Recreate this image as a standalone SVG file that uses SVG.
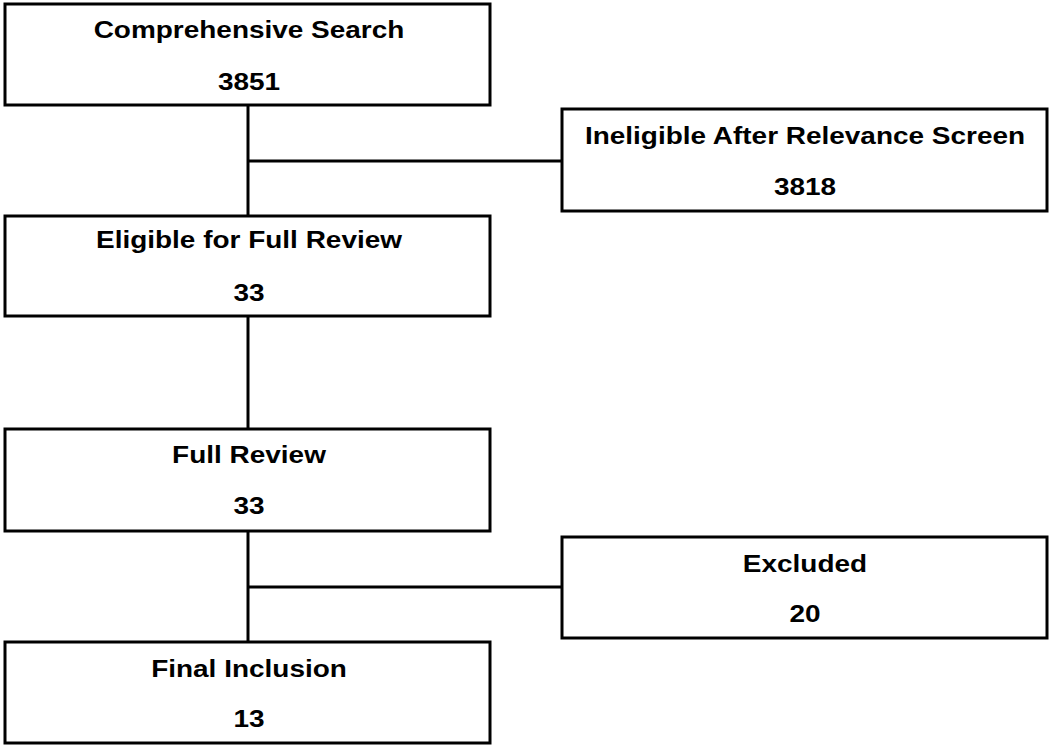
<svg xmlns="http://www.w3.org/2000/svg" width="1050" height="751" viewBox="0 0 1050 751">
<style>
.box{fill:#fff;stroke:#000;stroke-width:3}
.t{font-family:"Liberation Sans",Arial,sans-serif;font-weight:bold;font-size:24px;fill:#000;text-anchor:middle}
.c{stroke:#000;stroke-width:3;fill:none}
</style>
<rect width="1050" height="751" fill="#fff"/>
<g id="connectors">
<line class="c" x1="248" y1="105" x2="248" y2="216"/>
<line class="c" x1="248" y1="161" x2="562" y2="161"/>
<line class="c" x1="248" y1="316" x2="248" y2="429"/>
<line class="c" x1="248" y1="531" x2="248" y2="642"/>
<line class="c" x1="248" y1="587" x2="562" y2="587"/>
</g>
<g id="comprehensive-search">
<rect class="box" x="5" y="4" width="485" height="101"/>
<text class="t" transform="translate(249,38) scale(1.165,1)">Comprehensive Search</text>
<text class="t" transform="translate(249,90) scale(1.165,1)">3851</text>
</g>
<g id="ineligible">
<rect class="box" x="562" y="109" width="485" height="102"/>
<text class="t" transform="translate(805,144) scale(1.165,1)">Ineligible After Relevance Screen</text>
<text class="t" transform="translate(805,195) scale(1.165,1)">3818</text>
</g>
<g id="eligible">
<rect class="box" x="5" y="216" width="485" height="100"/>
<text class="t" transform="translate(249,248) scale(1.165,1)">Eligible for Full Review</text>
<text class="t" transform="translate(249,301) scale(1.165,1)">33</text>
</g>
<g id="full-review">
<rect class="box" x="5" y="429" width="485" height="102"/>
<text class="t" transform="translate(249,463) scale(1.165,1)">Full Review</text>
<text class="t" transform="translate(249,514) scale(1.165,1)">33</text>
</g>
<g id="excluded">
<rect class="box" x="562" y="537" width="485" height="101"/>
<text class="t" transform="translate(805,572) scale(1.165,1)">Excluded</text>
<text class="t" transform="translate(805,622) scale(1.165,1)">20</text>
</g>
<g id="final-inclusion">
<rect class="box" x="5" y="642" width="485" height="101"/>
<text class="t" transform="translate(249,677) scale(1.165,1)">Final Inclusion</text>
<text class="t" transform="translate(249,727) scale(1.165,1)">13</text>
</g>
</svg>
